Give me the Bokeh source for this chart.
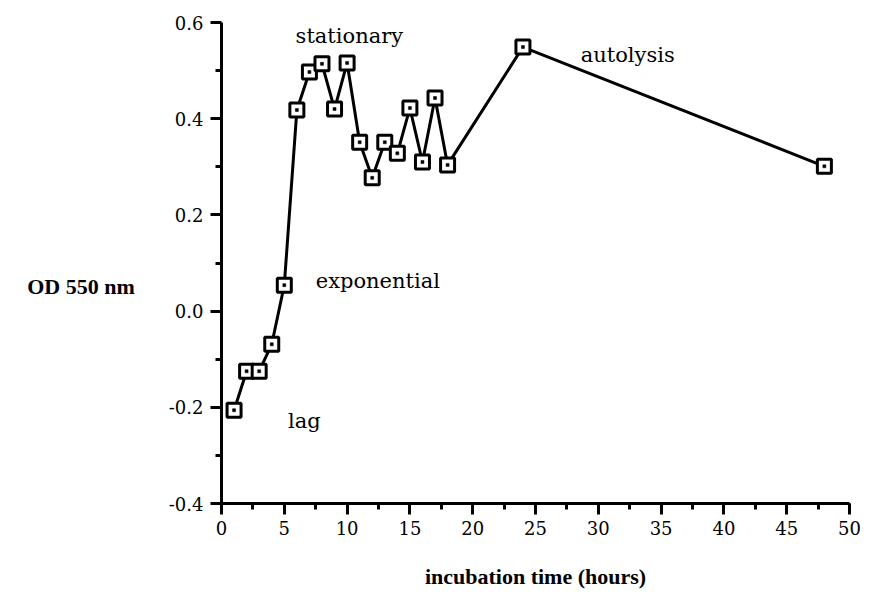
from bokeh.plotting import figure
from bokeh.models import (Range1d, Label, SingleIntervalTicker, FixedTicker,
                          PrintfTickFormatter)
from bokeh.embed import file_html
from bokeh.resources import INLINE

# Bacterial growth curve: optical density over incubation time
hours = [1, 2, 3, 4, 5, 6, 7, 8, 9, 10, 11, 12, 13, 14, 15, 16, 17, 18, 24, 48]
od550 = [-0.206, -0.125, -0.125, -0.069, 0.054, 0.418, 0.497, 0.514, 0.420, 0.516,
         0.351, 0.277, 0.351, 0.328, 0.422, 0.310, 0.443, 0.304, 0.549, 0.301]

# Growth phase annotations (text, x, y)
phase_labels = ["lag", "exponential", "stationary", "autolysis"]
phase_x = [5.3, 7.5, 5.9, 28.6]
phase_y = [-0.229, 0.062, 0.572, 0.532]

y_ticks = [-0.4, -0.2, 0.0, 0.2, 0.4, 0.6]
y_minor = [-0.3, -0.1, 0.1, 0.3, 0.5]

SERIF = "DejaVu Serif"
BOLD = "Liberation Serif"

p = figure(width=873, height=606, output_backend="svg", toolbar_location=None,
           x_range=Range1d(0, 50), y_range=Range1d(-0.4, 0.6),
           min_border_left=221, min_border_right=24,
           min_border_top=22, min_border_bottom=103)
p.outline_line_color = None
p.grid.visible = False
p.background_fill_color = "white"
p.border_fill_color = "white"

# Axes
p.xaxis.ticker = SingleIntervalTicker(interval=5, num_minor_ticks=2)
p.yaxis.ticker = FixedTicker(ticks=y_ticks, minor_ticks=y_minor)
p.yaxis.formatter = PrintfTickFormatter(format="%.1f")
for ax in (p.xaxis, p.yaxis):
    ax.axis_line_width = 3
    ax.axis_line_color = "black"
    ax.major_tick_line_width = 3
    ax.minor_tick_line_width = 3
    ax.major_tick_in = 0
    ax.minor_tick_in = 0
    ax.major_tick_out = 11
    ax.minor_tick_out = 6
    ax.major_label_text_font = SERIF
    ax.major_label_text_font_size = "18px"
    ax.major_label_text_color = "black"
    ax.axis_label_text_color = "black"
    ax.axis_label_text_font = BOLD
    ax.axis_label_text_font_style = "bold"
    ax.axis_label_text_font_size = "22px"
p.xaxis.major_label_standoff = 6
p.yaxis.major_label_standoff = 7

p.xaxis.axis_label = "incubation time (hours)"
p.xaxis.axis_label_standoff = 26

# Horizontal y-axis title, set a little below the middle of the axis
p.yaxis.axis_label = "\nOD 550 nm"
p.yaxis.axis_label_orientation = "horizontal"
p.yaxis.axis_label_text_line_height = 1.85
p.yaxis.axis_label_standoff = 31

# Growth curve
p.line(hours, od550, line_color="black", line_width=3)
p.scatter(hours, od550, marker="square", size=14, fill_color="white",
          line_color="black", line_width=3)
p.scatter(hours, od550, marker="square", size=3, fill_color="black",
          line_color="black", line_width=0.5)

for t, x, y in zip(phase_labels, phase_x, phase_y):
    p.add_layout(Label(x=x, y=y, text=t, text_font=SERIF, text_font_size="21px",
                       text_align="left", text_baseline="alphabetic",
                       text_color="black"))

open("out.html", "w").write(file_html(p, INLINE))
